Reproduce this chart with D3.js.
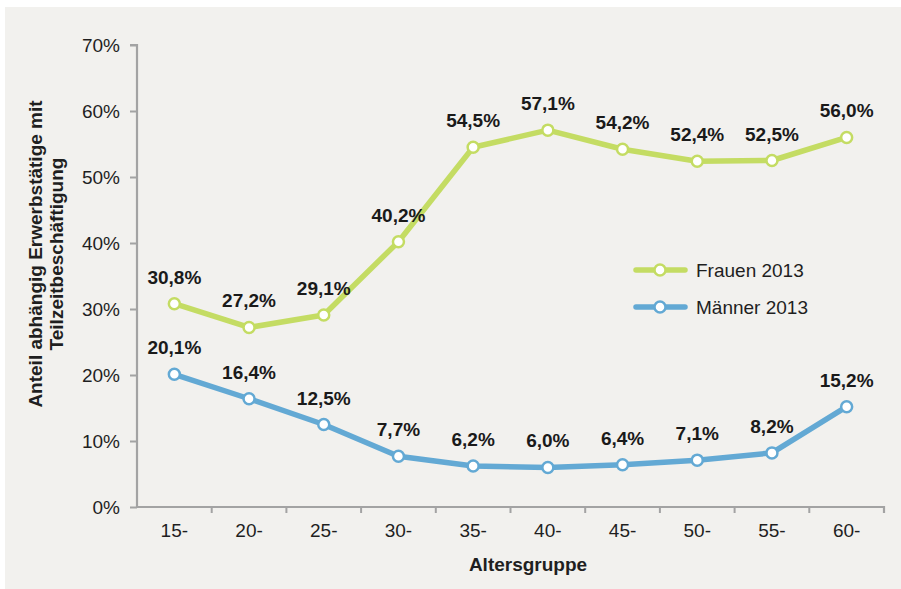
<!DOCTYPE html>
<html>
<head>
<meta charset="utf-8">
<script src="https://cdn.jsdelivr.net/npm/d3@7"></script>
<style>
  html, body { margin: 0; padding: 0; background: #ffffff; }
  svg { display: block; font-family: "Liberation Sans", Arial, sans-serif; }
</style>
</head>
<body>
<svg id="chart" width="901" height="589"></svg>
<script>
// Age groups (x axis)
const categories = ["15-", "20-", "25-", "30-", "35-", "40-", "45-", "50-", "55-", "60-"];
// Share of dependent employees working part-time, in percent
const frauen2013 = [30.8, 27.2, 29.1, 40.2, 54.5, 57.1, 54.2, 52.4, 52.5, 56.0];
const maenner2013 = [20.1, 16.4, 12.5, 7.7, 6.2, 6.0, 6.4, 7.1, 8.2, 15.2];
const seriesNames = ["Frauen 2013", "Männer 2013"];
const yTicks = [0, 10, 20, 30, 40, 50, 60, 70];

const colors = ["#c4dc63", "#63a9d4"];
const series = [
  { name: seriesNames[0], values: frauen2013, color: colors[0] },
  { name: seriesNames[1], values: maenner2013, color: colors[1] }
];

const de = d3.formatLocale({ decimal: ",", thousands: ".", grouping: [3], currency: ["", " €"] });
const fmt1 = de.format(".1f");

const svg = d3.select("#chart");
const textColor = "#1f1f1f";

// Panel background
svg.append("rect")
  .attr("x", 5).attr("y", 7)
  .attr("width", 896).attr("height", 582)
  .attr("fill", "#f2f1ee");

const plotLeft = 137, plotRight = 884, plotTop = 45, plotBottom = 507;

const x = d3.scaleBand().domain(categories).range([plotLeft, plotRight]).paddingInner(0).paddingOuter(0);
const y = d3.scaleLinear().domain([0, 70]).range([plotBottom, plotTop]);

const axisColor = "#a3a3a3";

// Y axis
const yAxis = svg.append("g")
  .attr("transform", `translate(${plotLeft},0)`)
  .call(d3.axisLeft(y).tickValues(yTicks).tickSize(7).tickPadding(10)
    .tickFormat(d => d + "%"));
yAxis.select(".domain").attr("stroke", axisColor).attr("stroke-width", 2.2)
  .attr("d", `M-7,${plotTop}H0V${plotBottom}`);
yAxis.selectAll(".tick line").attr("stroke", axisColor).attr("stroke-width", 2);
yAxis.selectAll(".tick text")
  .attr("fill", textColor).attr("font-size", 19)
  .attr("font-family", "'Liberation Sans', Arial, sans-serif");

// X axis with ticks on category boundaries
const xAxis = svg.append("g")
  .attr("transform", `translate(0,${plotBottom})`)
  .call(d3.axisBottom(x).tickSize(0).tickPadding(16.5));
xAxis.select(".domain").attr("stroke", axisColor).attr("stroke-width", 2.2)
  .attr("d", `M${plotLeft},0H${plotRight}V6`);
xAxis.selectAll(".tick text")
  .attr("fill", textColor).attr("font-size", 19)
  .attr("font-family", "'Liberation Sans', Arial, sans-serif");
xAxis.selectAll(".boundary")
  .data(categories.slice(1).concat(["__end"]))
  .enter().append("line")
  .attr("class", "boundary")
  .attr("x1", (d, i) => i < categories.length - 1 ? x(d) : plotRight)
  .attr("x2", (d, i) => i < categories.length - 1 ? x(d) : plotRight)
  .attr("y1", 0).attr("y2", 6)
  .attr("stroke", axisColor).attr("stroke-width", 2);

// Axis titles
svg.append("text")
  .attr("x", 528).attr("y", 571)
  .attr("text-anchor", "middle")
  .attr("font-size", 19).attr("font-weight", "bold").attr("fill", textColor)
  .text("Altersgruppe");

const yTitle = svg.append("text")
  .attr("transform", "translate(41.5,254) rotate(-90)")
  .attr("text-anchor", "middle")
  .attr("font-size", 19).attr("font-weight", "bold").attr("fill", textColor);
yTitle.append("tspan").attr("x", 0).attr("y", 0).text("Anteil abhängig Erwerbstätige mit");
yTitle.append("tspan").attr("x", 0).attr("y", 21.5).text("Teilzeitbeschäftigung");

const cx = i => x(categories[i]) + x.bandwidth() / 2;

const line = d3.line()
  .x((d, i) => cx(i))
  .y(d => y(d));

series.forEach(s => {
  const g = svg.append("g");
  g.append("path")
    .datum(s.values)
    .attr("d", line)
    .attr("fill", "none")
    .attr("stroke", s.color)
    .attr("stroke-width", 5.5)
    .attr("stroke-linejoin", "round")
    .attr("stroke-linecap", "round");
  g.selectAll("circle")
    .data(s.values)
    .enter().append("circle")
    .attr("cx", (d, i) => cx(i))
    .attr("cy", d => y(d))
    .attr("r", 5.5)
    .attr("fill", "#ffffff")
    .attr("stroke", s.color)
    .attr("stroke-width", 2.5);
  g.selectAll("text")
    .data(s.values)
    .enter().append("text")
    .attr("x", (d, i) => cx(i))
    .attr("y", d => y(d) - 20)
    .attr("text-anchor", "middle")
    .attr("font-size", 19).attr("font-weight", "bold").attr("fill", "#1a1a1a")
    .text(d => fmt1(d) + "%");
});

// Legend
const legend = svg.append("g");
series.forEach((s, i) => {
  const ly = 270 + i * 37;
  legend.append("line")
    .attr("x1", 636).attr("x2", 685)
    .attr("y1", ly).attr("y2", ly)
    .attr("stroke", s.color).attr("stroke-width", 5.5)
    .attr("stroke-linecap", "round");
  legend.append("circle")
    .attr("cx", 660).attr("cy", ly).attr("r", 5.5)
    .attr("fill", "#ffffff").attr("stroke", s.color).attr("stroke-width", 2.5);
  legend.append("text")
    .attr("x", 696).attr("y", ly + 7)
    .attr("font-size", 19).attr("fill", textColor)
    .text(s.name);
});
</script>
</body>
</html>
